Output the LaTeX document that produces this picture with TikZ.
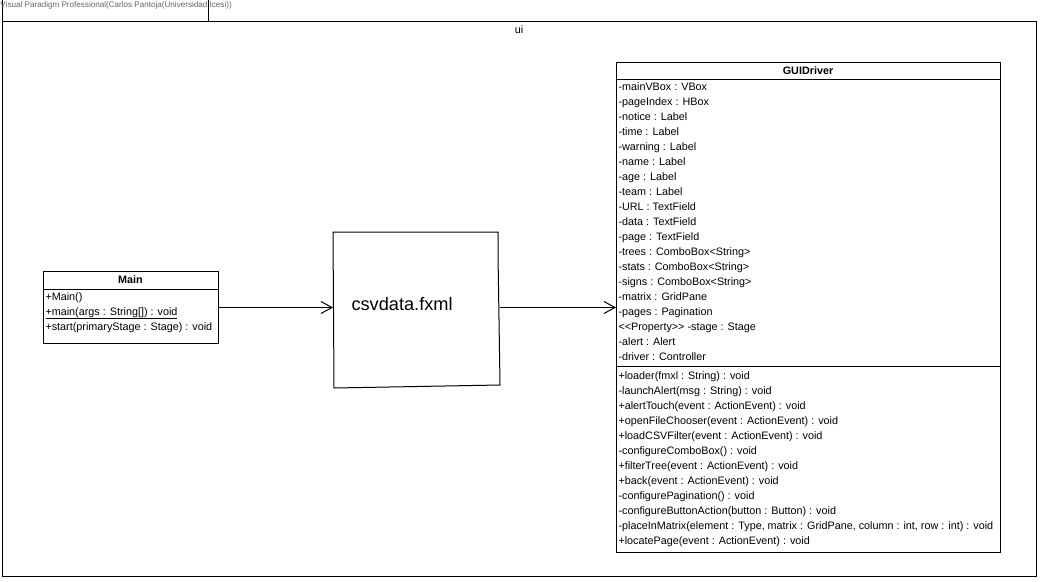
\documentclass[tikz,border=0pt]{standalone}
\usepackage{fontspec}
\setmainfont{Liberation Sans}
\usetikzlibrary{arrows.meta}
\begin{document}
\begin{tikzpicture}[x=1pt,y=-1pt,
  line width=1pt,
  row/.style={anchor=base west, inner sep=0pt, font=\fontsize{10.8}{13}\selectfont},
  title/.style={anchor=base, inner sep=0pt, font=\fontsize{10.8}{13}\selectfont\bfseries},
  classbox/.style={draw, rectangle, inner sep=0pt, anchor=north west},
  dep/.style={-{Straight Barb[length=11pt,width=12pt]}, line width=1pt}
]
\useasboundingbox (0,0) rectangle (1041,581);
\fill[white] (0,0) rectangle (1041,581);
% package frame
\node[draw, rectangle, inner sep=0pt, anchor=north west, minimum width=1034pt, minimum height=555pt] (pkg) at (2,21) {};
\draw (2,0) -- (2,21);
\draw (208,0) -- (208,21);
\node[anchor=base west, inner sep=0pt, text=black!60, font=\fontsize{8.1}{10}\selectfont] (vp) at (0,7.5) {Visual Paradigm Professional(Carlos Pantoja(Universidad Icesi))};
\node[anchor=base, inner sep=0pt, font=\fontsize{10.8}{13}\selectfont] (uilabel) at (519,33) {ui};
% Main class
\node[classbox, minimum width=175pt, minimum height=72pt] (main) at (43,271) {};
\draw (43,289) -- (218,289);
\node[title] (maint) at (130.5,283.5) {Main};
\node[row] (m1) at (45,300) {+Main()};
\node[row] (m2) at (45,315) {\underline{+main(args : String[]) : void}};
\node[row] (m3) at (45,330) {+start(primaryStage : Stage) : void};
% csvdata
\node[inner sep=0pt, anchor=north west, minimum width=166pt, minimum height=155pt] (csv) at (333,232) {};
\draw (333,232) -- (498,232) -- (498,254) -- (500,385) -- (334,388) -- cycle;
\node[anchor=base west, inner sep=0pt, font=\fontsize{18.2}{21}\selectfont] (csvt) at (351,310) {csvdata.fxml};
% GUIDriver
\node[classbox, minimum width=384pt, minimum height=490pt] (gui) at (616,62) {};
\draw (616,79) -- (1000,79);
\draw (616,366) -- (1000,366);
\node[title] (guit) at (808,74) {GUIDriver};
\foreach \t [count=\i from 0] in {
  -mainVBox : VBox, -pageIndex : HBox, -notice : Label, -time : Label, -warning : Label,
  -name : Label, -age : Label, -team : Label, -URL : TextField, -data : TextField,
  -page : TextField, -trees : ComboBox<String>, -stats : ComboBox<String>,
  -signs : ComboBox<String>, -matrix : GridPane, -pages : Pagination,
  {<{}<Property>{}> -stage : Stage}, -alert : Alert, -driver : Controller}
  { \node[row] (ga\i) at (618,90.5+15*\i) {\t}; }
\foreach \t [count=\i from 0] in {
  +loader(fmxl : String) : void, -launchAlert(msg : String) : void,
  +alertTouch(event : ActionEvent) : void, +openFileChooser(event : ActionEvent) : void,
  +loadCSVFilter(event : ActionEvent) : void, -configureComboBox() : void,
  +filterTree(event : ActionEvent) : void, +back(event : ActionEvent) : void,
  -configurePagination() : void, -configureButtonAction(button : Button) : void,
  {-placeInMatrix(element : Type, matrix : GridPane, column : int, row : int) : void},
  +locatePage(event : ActionEvent) : void}
  { \node[row] (go\i) at (618,379+15*\i) {\t}; }
% connectors
\draw[dep] (main.east) -- (main.east -| csv.west);
\draw[dep] (gui.west -| csv.east) -- (gui.west);
\end{tikzpicture}
\end{document}
